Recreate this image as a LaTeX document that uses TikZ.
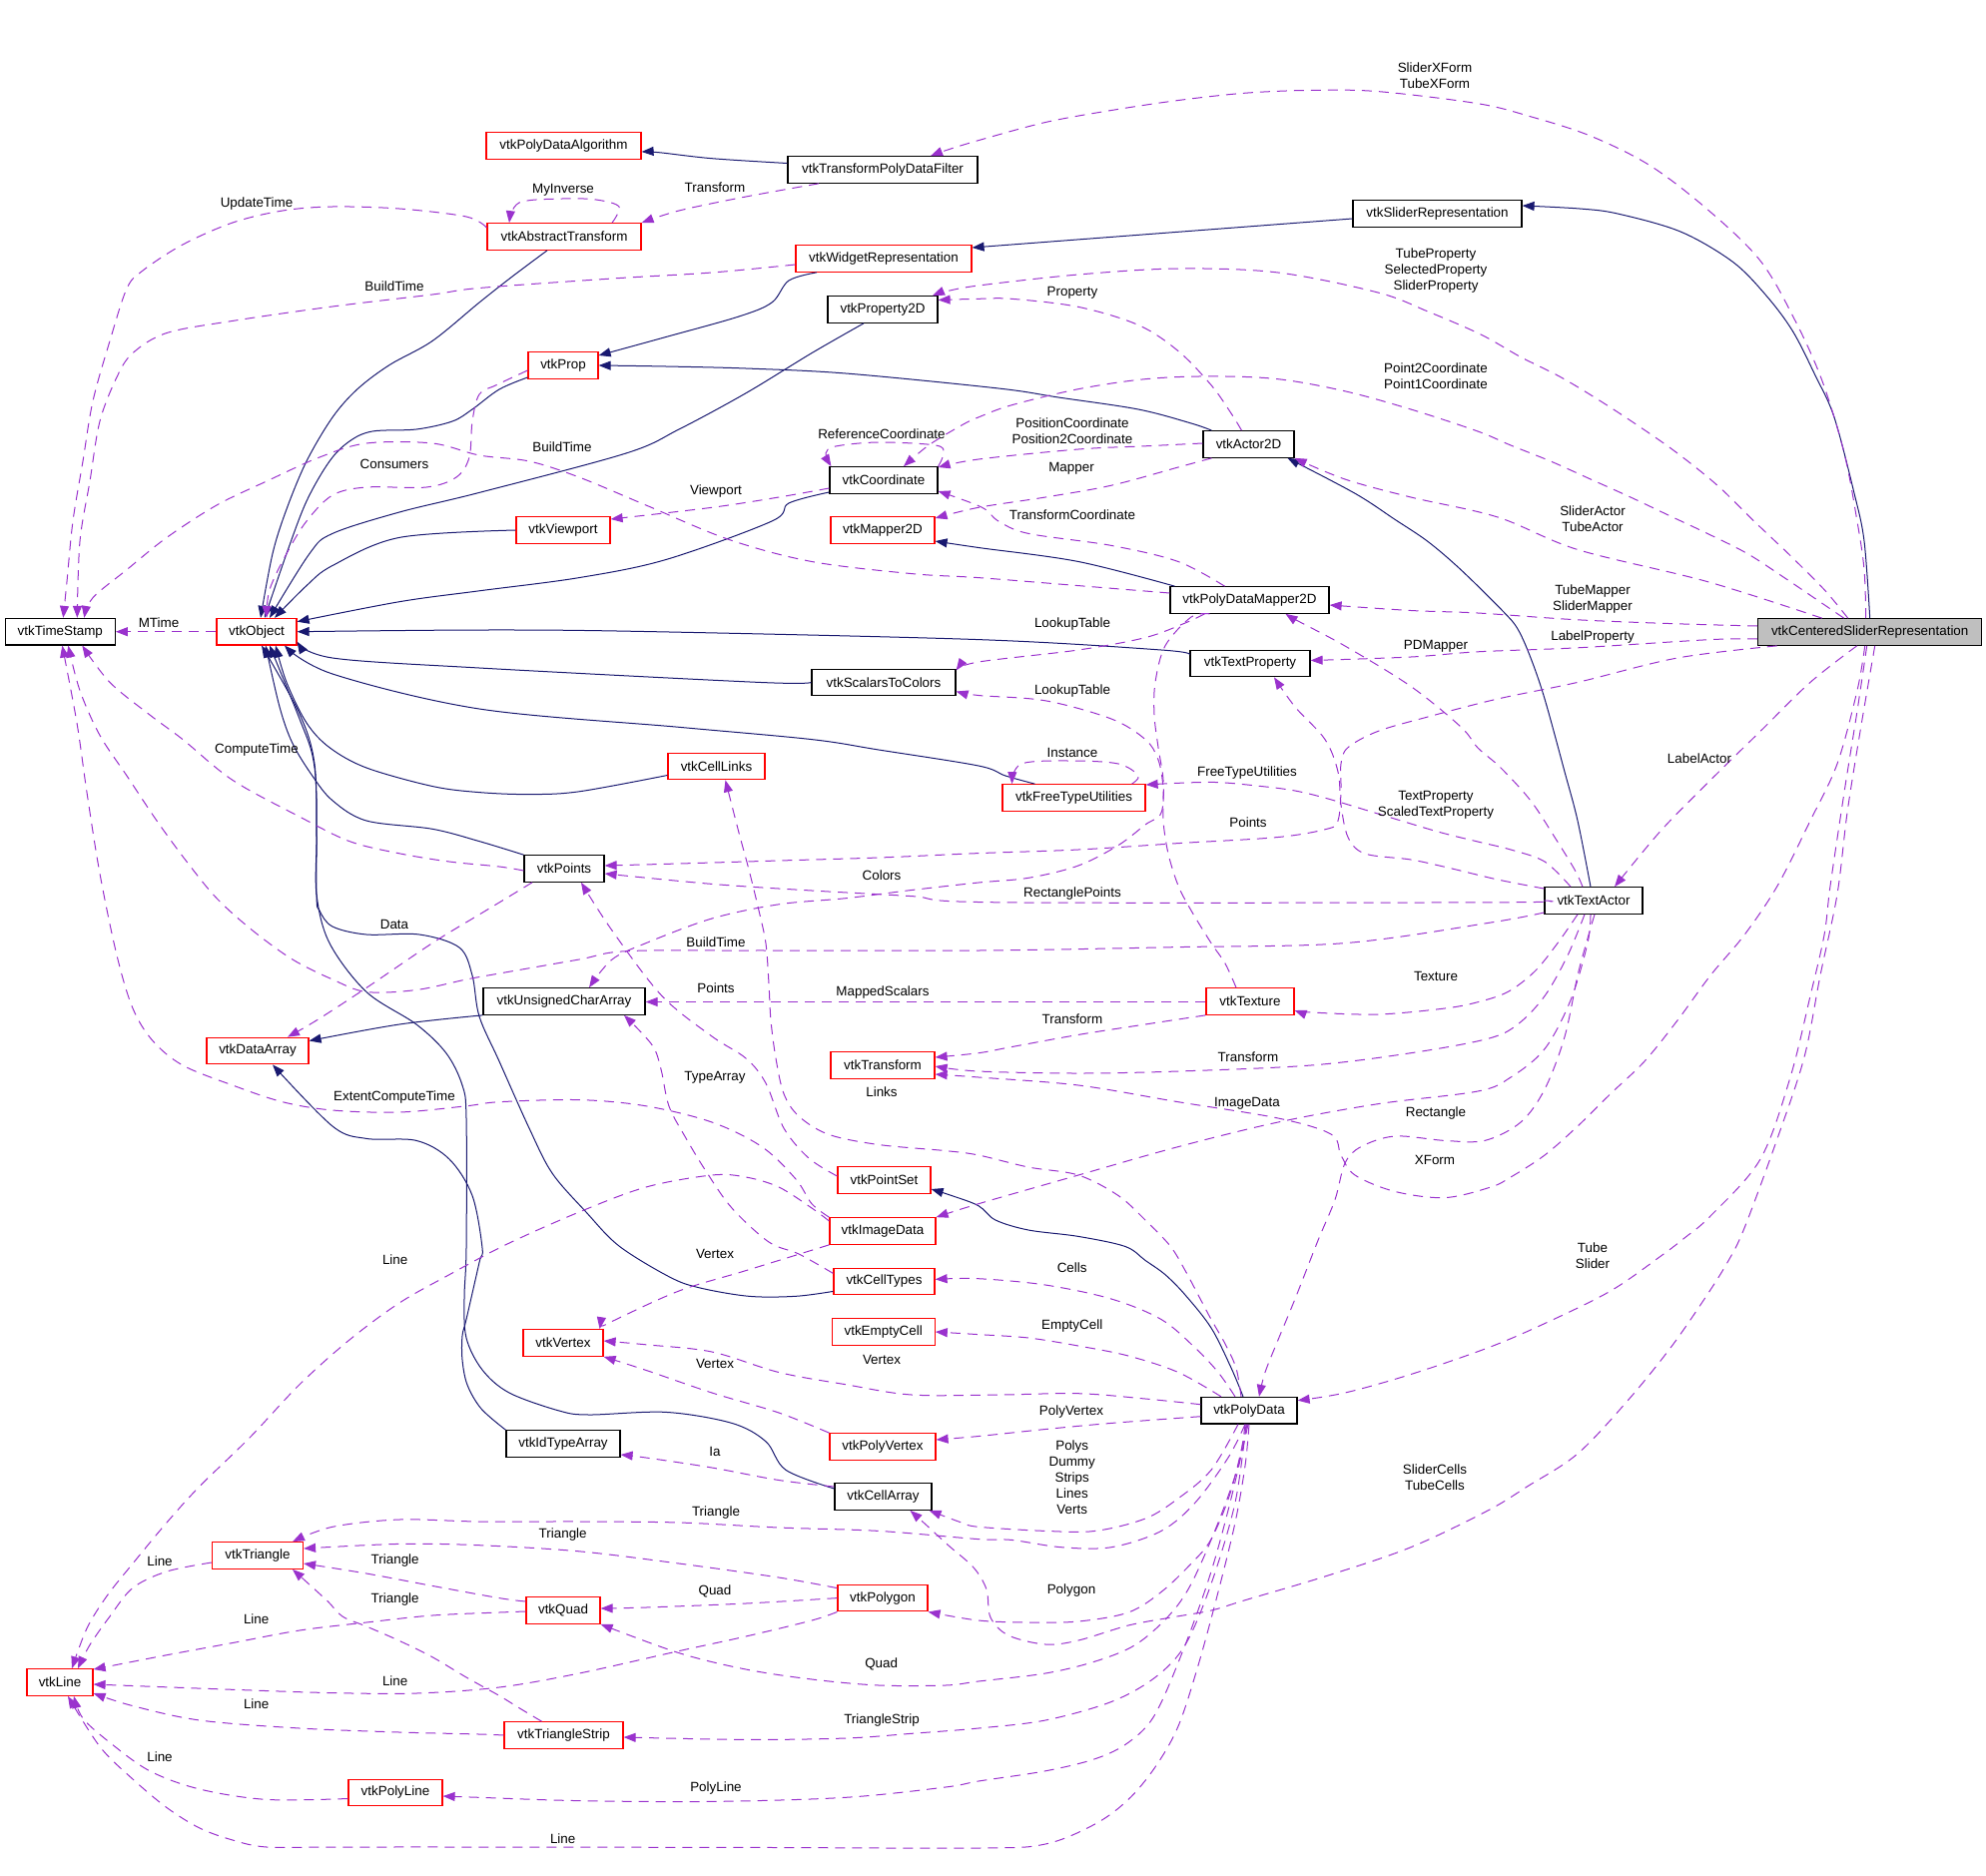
\documentclass[tikz,border=0pt]{standalone}
\usepackage{fontspec}
\setmainfont{Liberation Sans}
\usetikzlibrary{arrows.meta}
\definecolor{navyc}{RGB}{25,25,112}
\definecolor{purp}{RGB}{154,50,205}
\definecolor{grayf}{RGB}{191,191,191}
\newcommand\labfont{\fontsize{13.4}{16}\selectfont}
\begin{document}
\begin{tikzpicture}[x=1pt,y=-1pt,
 cls/.style={draw=black, line width=1.2pt, minimum height=26.5pt, inner sep=0pt, font=\labfont, anchor=center},
 redc/.style={cls, draw=red},
 inh/.style={draw=navyc, line width=1pt, -{Triangle[length=12pt,width=9pt]}},
 use/.style={draw=purp, line width=1pt, dash pattern=on 10pt off 7pt, -{Triangle[length=12pt,width=9pt]}},
 lbl/.style={font=\labfont, inner sep=0pt, align=center},
 sm/.style={smooth, tension=0.55}
]
\useasboundingbox (0,0) rectangle (1989,1879);
% ---------- nodes ----------
\node[cls, fill=grayf, minimum width=224pt] (csr) at (1872.7,633) {vtkCenteredSliderRepresentation};
\node[cls, minimum width=169pt] (srep) at (1439.5,214) {vtkSliderRepresentation};
\node[cls, minimum width=190pt] (tpdf) at (884,170) {vtkTransformPolyDataFilter};
\node[redc, minimum width=155pt] (pdalg) at (564.5,146) {vtkPolyDataAlgorithm};
\node[redc, minimum width=154pt] (abst) at (565,237) {vtkAbstractTransform};
\node[redc, minimum width=176pt] (wrep) at (885,259) {vtkWidgetRepresentation};
\node[cls, minimum width=110pt] (p2d) at (884,310) {vtkProperty2D};
\node[redc, minimum width=70pt] (prop) at (564,366) {vtkProp};
\node[cls, minimum width=91pt] (a2d) at (1250.5,445) {vtkActor2D};
\node[cls, minimum width=108pt] (coord) at (885,481) {vtkCoordinate};
\node[redc, minimum width=94pt] (vp) at (564,531) {vtkViewport};
\node[redc, minimum width=104pt] (m2d) at (884,531) {vtkMapper2D};
\node[cls, minimum width=159pt] (pdm) at (1251.5,601) {vtkPolyDataMapper2D};
\node[cls, minimum width=110pt] (ts) at (60.3,632.7) {vtkTimeStamp};
\node[redc, minimum width=80pt] (obj) at (257,632.7) {vtkObject};
\node[cls, minimum width=120pt] (tprop) at (1252,664.5) {vtkTextProperty};
\node[cls, minimum width=144pt] (s2c) at (885,683.5) {vtkScalarsToColors};
\node[redc, minimum width=97pt] (clinks) at (717.5,767.5) {vtkCellLinks};
\node[redc, minimum width=143pt] (ftu) at (1075.5,799) {vtkFreeTypeUtilities};
\node[cls, minimum width=80pt] (pts) at (565,870) {vtkPoints};
\node[cls, minimum width=98pt] (tact) at (1596,902) {vtkTextActor};
\node[cls, minimum width=162pt] (ucarr) at (565,1003) {vtkUnsignedCharArray};
\node[redc, minimum width=88pt] (tex) at (1252,1003) {vtkTexture};
\node[redc, minimum width=102pt] (darr) at (258,1052.5) {vtkDataArray};
\node[redc, minimum width=104pt] (trf) at (884,1067) {vtkTransform};
\node[redc, minimum width=93pt] (pset) at (885.5,1182) {vtkPointSet};
\node[redc, minimum width=106pt] (imgd) at (884,1233) {vtkImageData};
\node[redc, minimum width=101pt] (ctypes) at (885.5,1283.4) {vtkCellTypes};
\node[redc, minimum width=103pt] (ecell) at (884.7,1334) {vtkEmptyCell};
\node[redc, minimum width=80pt] (vtx) at (564,1345) {vtkVertex};
\node[cls, minimum width=96pt] (pd) at (1251,1412.7) {vtkPolyData};
\node[redc, minimum width=106pt] (pvtx) at (884,1449) {vtkPolyVertex};
\node[cls, minimum width=114pt] (idta) at (564,1446) {vtkIdTypeArray};
\node[cls, minimum width=97pt] (carr) at (884.5,1499) {vtkCellArray};
\node[redc, minimum width=91pt] (tri) at (258,1558) {vtkTriangle};
\node[redc, minimum width=90pt] (pgon) at (884,1600.6) {vtkPolygon};
\node[redc, minimum width=74pt] (quad) at (564,1613) {vtkQuad};
\node[redc, minimum width=66pt] (ln) at (60,1685) {vtkLine};
\node[redc, minimum width=119pt] (tstrip) at (564.5,1738) {vtkTriangleStrip};
\node[redc, minimum width=94pt] (pline) at (396,1795.5) {vtkPolyLine};
% ---------- inheritance ----------
\draw[inh] plot[sm] coordinates {(csr.north) (1867,542) (1857,494) (1837,418) (1818,376) (1795,331) (1768,295) (1735,262) (1683,232) (1620,214) (1582,209) ([yshift=8pt]srep.east)};
\draw[inh] ([yshift=-5pt]srep.west) -- ([yshift=11pt]wrep.east);
\draw[inh] plot[sm] coordinates {([xshift=-67pt]wrep.south) (790,281) (773,303) (740,317) (667,337.5) ([yshift=10pt]prop.east)};
\draw[inh] plot[sm] coordinates {([xshift=-37pt]a2d.north) (1193,424) (1140,410) (1060,398) (1000,389) (847,374) (747,369) (667,367) (prop.east)};
\draw[inh] plot[sm] coordinates {([xshift=-17pt]abst.south) (513,277) (480,303) (433,341.5) (390,365.6) (358,389.7) (333,418) (307,462) (287,510) (273,554.5) ([xshift=4pt]obj.north)};
\draw[inh] plot[sm] coordinates {([yshift=-12pt]prop.west) (500,390) (473,410) (453,422) (417,430) (373,432) (350,442) (330,462) (307,502) (287,554.5) ([xshift=8pt]obj.north)};
\draw[inh] plot[sm] coordinates {([xshift=-19pt]p2d.south) (813,353.6) (747,393.8) (680,430) (627,454) (480,493.4) (400,513) (333,534.4) (310,554.5) ([xshift=13pt]obj.north)};
\draw[inh] plot[sm] coordinates {(vp.west) (400,538.4) (333,566.5) (307,586.6) ([xshift=18pt]obj.north)};
\draw[inh] plot[sm] coordinates {([yshift=-12pt]coord.west) (790,504) (773,522) (667,560.5) (580,578.6) (480,591.8) (400,602.7) ([yshift=10pt]obj.east)};
\draw[inh] plot[sm] coordinates {([yshift=9pt]tprop.west) (1163,651) (980,640.6) (640,632.4) (480,631) (obj.east)};
\draw[inh] plot[sm] coordinates {(s2c.west) (760,683.4) (480,669) (333,659) ([yshift=-10pt]obj.east)};
\draw[inh] plot[sm] coordinates {([xshift=-39pt]ftu.north) (1007,777) (980,767) (880,751) (813,740.6) (680,728.3) (480,710) (333,675) ([xshift=28pt]obj.south)};
\draw[inh] plot[sm] coordinates {([yshift=-9pt]clinks.west) (580,792.8) (530,795.6) (480,793.6) (433,787.5) (367,769) (330,748.7) (307,724) (287,683.4) ([xshift=19pt]obj.south)};
\draw[inh] plot[sm] coordinates {(pts.north west) (480,842.6) (433,830.3) (367,822) (333,801.8) (313,777.3) (293,744.6) (280,708) ([xshift=9pt]obj.south)};
\draw[inh] plot[sm] coordinates {([yshift=-10pt]ctypes.west) (797,1298.3) (750,1298.3) (700,1289.7) (670,1278.7) (620,1248) (587,1214) (553,1175) (530,1130) (500,1063) (480,1018) (473,977) (460,949) (420,936) (367,936) (333,928) (320,912) (317,896) (317,800) (313,757) (300,720) ([xshift=13pt]obj.south)};
\draw[inh] plot[sm] coordinates {([yshift=8pt]carr.west) (787,1472.3) (767,1443.8) (733,1425.4) (667,1414.4) (590,1417) (560,1413) (510,1395) (483,1372) (467,1340) (465,1300) (467,1250) (467,1120) (463,1087) (447,1055) (417,1026) (367,993.5) (330,944.6) (317,895.6) (317,838) (315,765) (300,715) ([xshift=5pt]obj.south)};
\draw[inh] plot[sm] coordinates {(idta.north west) (482,1411) (468,1387) (463,1362) (463,1338) (467,1321.5) (480,1264.5) (483,1250) (473,1197.5) (450,1161) (417,1142.4) (367,1140.4) (333,1128) ([xshift=15pt]darr.south)};
\draw[inh] plot[sm] coordinates {(ucarr.south west) (400,1026) ([yshift=10pt]darr.east)};
\draw[inh] plot[sm] coordinates {([yshift=6.5pt]tpdf.west) (713,158.7) (660,152.7) ([yshift=-6pt]pdalg.east)};
\draw[inh] plot[sm] coordinates {([xshift=-75pt]pdm.north) (1080,562.5) (980,548.5) ([yshift=-11pt]m2d.east)};
\draw[inh] plot[sm] coordinates {([xshift=-3pt]tact.north) (1580,822) (1567,773) (1547,700) (1533,659) (1520,630) (1505,612) (1463,570.6) (1430,542.4) (1397,520.3) (1357,494.2) ([xshift=39pt]a2d.south)};
\draw[inh] plot[sm] coordinates {([xshift=-6pt]pd.north) (1233,1370) (1213,1330) (1187,1297) (1167,1276.7) (1147,1262.4) (1127,1248.5) (1080,1238.4) (1030,1232) (997,1222) (980,1207.7) (953,1197.5) ([yshift=-9pt]pset.east)};
% ---------- usage ----------
\draw[use] (obj.west) -- (ts.east);
\draw[use] plot[sm] coordinates {([yshift=9pt]abst.west) (467,217) (400,209) (333,207) (283,211) (233,223) (183,245) (143,271) (127,289) (110,341.5) (93,401.8) (83,462) (73,522) (67,582.6) ([xshift=3pt]ts.north)};
\draw[use] plot[sm] coordinates {([xshift=48pt]abst.north) (620,207) (597,200) (563,199) (520,203) ([xshift=-55pt]abst.north)};
\draw[use] plot[sm] coordinates {([xshift=-64pt]tpdf.south) (747,197) (680,211) (abst.north east)};
\draw[use] plot[sm] coordinates {([yshift=-6pt]wrep.west) (713,273) (613,279) (480,288.5) (433,295) (333,307) (233,321.4) (167,333.5) (133,353.6) (117,377.7) (100,421.9) (90,482) (80,542.4) ([xshift=17pt]ts.north)};
\draw[use] plot[sm] coordinates {([xshift=-4pt]csr.north) (1867,570.6) (1860,522.3) (1847,454) (1825,381.7) (1798,321.4) (1763,261.2) (1710,209.7) (1652,165.5) (1592,135.8) (1532,116.5) (1480,103.7) (1380,91.6) (1313,90.4) (1247,93.2) (1180,100.5) (1113,110.5) (1047,122.5) (980,140.6) (947,150.7) ([xshift=48pt]tpdf.north)};
\draw[use] plot[sm] coordinates {([xshift=-22pt]csr.north) (1827,590.6) (1793,556.5) (1757,522.3) (1720,486.2) (1680,454) (1643,428) (1603,401.8) (1563,377.7) (1523,357.6) (1483,335) (1430,312) (1380,293) (1280,273) (1180,269) (1080,275) (980,286) (947,292) ([xshift=50pt]p2d.north)};
\draw[use] plot[sm] coordinates {([xshift=-7pt]a2d.north) (1233,414) (1213,385.7) (1180,351.6) (1140,325.5) (1080,307.4) (1013,299.3) (980,299.3) ([yshift=9.5pt]p2d.east)};
\draw[use] plot[sm] coordinates {([xshift=-26pt]csr.north) (1823,603) (1787,578.6) (1750,554.5) (1710,534.4) (1673,517) (1633,498) (1593,480) (1553,462) (1513,446) (1480,432) (1413,410) (1347,391.8) (1280,379.7) (1213,376.9) (1147,379.7) (1080,389.7) (1013,405.8) (980,417.9) (963,426) (930,446) ([xshift=20pt]coord.north)};
\draw[use] plot[sm] coordinates {(coord.north east) (945,454) (937,446) (880,443) (837,447) (827,454) ([xshift=2pt]coord.north west)};
\draw[use] plot[sm] coordinates {([yshift=1pt]a2d.west) (1147,446.8) (1080,450) (980,460) ([yshift=13pt]coord.east)};
\draw[use] plot[sm] coordinates {([xshift=-37pt]a2d.south) (1180,468) (1113,486.2) (1047,498) (980,508.3) ([yshift=12pt]m2d.east)};
\draw[use] plot[sm] coordinates {([yshift=-8pt]coord.west) (780,498) (713,508.3) ([yshift=11pt]vp.east)};
\draw[use] plot[sm] coordinates {([xshift=-25pt]pdm.north) (1180,562.5) (1113,546.4) (1030,534.4) (1000,522) (983,508) ([yshift=-11pt]coord.east)};
\draw[use] plot[sm] coordinates {([yshift=7pt]pdm.west) (1080,586.6) (980,578.6) (913,574.6) (813,562.5) (730,540.4) (647,506) (580,478) (530,462) (480,456) (433,444) (367,444) (320,458) (267,482) (217,506) (167,538.4) (127,570.6) (93,598.7) ([xshift=24pt]ts.north)};
\draw[use] plot[sm] coordinates {([yshift=-5pt]prop.west) (497,385.7) (480,395) (473,422) (470,458) (457,478) (427,488) (367,488) (333,496) (307,522) (287,554.5) (270,590.6) ([xshift=10pt]obj.north)};
\draw[use] plot[sm] coordinates {([xshift=-48pt]csr.north) (1710,582.6) (1580,550.5) (1500,518) (1413,498) (1347,480) (a2d.south east)};
\draw[use] plot[sm] coordinates {([yshift=6pt]csr.west) (1680,624.8) (1580,620.8) (1480,614) (1413,611.5) ([yshift=-5pt]pdm.east)};
\draw[use] plot[sm] coordinates {([yshift=-7pt]csr.west) (1713,640.6) (1580,648.8) (1480,652.8) (1413,658) ([yshift=3pt]tprop.east)};
\draw[use] plot[sm] coordinates {([xshift=-11pt]tact.north) (1577,871) (1557,838.5) (1533,802) (1503,769) (1480,749) (1463,728) (1413,687.5) (1347,647) (1300,622) ([xshift=36pt]pdm.south)};
\draw[use] plot[sm] coordinates {([yshift=12pt]tact.west) (1500,881) (1450,869) (1413,861) (1367,855) (1350,838.5) (1343,806) (1340,773) (1327,740.6) (1297,708) ([xshift=24pt]tprop.south)};
\draw[use] plot[sm] coordinates {([xshift=-93pt]csr.south) (1680,659) (1580,683.4) (1500,700) (1430,718) (1380,732.4) (1350,748.7) (1343,765) (1343,793.6) (1340,822) (1330,830) (1280,838.5) (1180,844.6) (1080,851) (980,854.6) (880,859) (780,862) (680,865) ([yshift=3pt]pts.east)};
\draw[use] plot[sm] coordinates {([xshift=-23pt]tact.north) (1547,863) (1513,851) (1480,843) (1440,833) (1380,815) (1330,800) (1297,792) (1263,787.5) (1213,783.4) ([yshift=13pt]ftu.east)};
\draw[use] plot[sm] coordinates {([xshift=58pt]ftu.north) (1140,777) (1120,765) (1073,762) (1023,765) ([xshift=-62pt]ftu.north)};
\draw[use] plot[sm] coordinates {([xshift=-45pt]pdm.south) (1187,624) (1147,638.6) (1080,651) (980,663) ([yshift=12pt]s2c.east)};
\draw[use] plot[sm] coordinates {([xshift=-14pt]tex.north) (1227,965) (1213,944.6) (1193,912) (1180,887) (1170,855) (1165,822) (1165,789.5) (1160,761) (1147,740.6) (1113,720) (1047,701.8) (980,696.5) ([yshift=-9pt]s2c.east)};
\draw[use] plot[sm] coordinates {([xshift=-40pt]pdm.south) (1193,618) (1167,646.7) (1157,683.4) (1156,716) (1160,748.7) (1165,781.4) (1163,814) (1147,826) (1120,846.6) (1080,867) (1030,879.3) (980,884) (913,891.5) (847,899.7) (780,905.8) (713,920) (647,944.6) (613,961) ([xshift=25pt]ucarr.north)};
\draw[use] plot[sm] coordinates {(tact.west) (1500,903.8) (1000,903.8) (913,897.6) (813,892) (713,885.4) ([yshift=-5pt]pts.east)};
\draw[use] plot[sm] coordinates {([yshift=-12pt]tact.west) (1493,924) (1347,944.6) (1180,948.6) (980,952) (747,952) (627,952.7) (580,961) (500,975) (467,981) (417,991.5) (367,993.5) (333,981) (293,961) (253,932) (217,899.7) (187,863) (157,822) (127,777) (100,736.5) (80,691.6) ([xshift=8pt]ts.south)};
\draw[use] plot[sm] coordinates {([yshift=-2pt]pts.west) (500,868) (450,863) (400,854.8) (350,842.6) (300,818) (233,781.4) (183,740.6) (150,716) (110,683.4) ([xshift=22pt]ts.south)};
\draw[use] plot[sm] coordinates {(imgd.north west) (813,1205.7) (797,1181) (763,1148.6) (713,1124) (647,1107.8) (580,1101.6) (500,1103.7) (467,1107.8) (400,1114) (333,1112) (283,1103.7) (233,1087) (183,1067) (153,1042.5) (133,1010) (117,956.8) (100,875) (87,793.6) (77,724) ([xshift=2pt]ts.south)};
\draw[use] plot[sm] coordinates {([xshift=-32pt]pts.south) (507,899.7) (480,916) (433,944.6) (367,989.4) (317,1022) ([xshift=30pt]darr.north)};
\draw[use] ([yshift=-0.5pt]tex.west) -- ([yshift=-0.5pt]ucarr.east);
\draw[use] plot[sm] coordinates {([xshift=-16pt]tact.south) (1560,944.6) (1537,973) (1510,993.5) (1480,1003.7) (1447,1010) (1380,1016) (1313,1014) ([yshift=-9pt]tex.east)};
\draw[use] plot[sm] coordinates {(tex.south west) (1147,1026) (1080,1036.4) (1013,1048.6) (980,1054.7) ([yshift=8pt]trf.east)};
\draw[use] plot[sm] coordinates {([xshift=-9pt]tact.south) (1570,957) (1547,997.6) (1520,1026) (1490,1040.4) (1413,1054.7) (1313,1067) (1180,1073) (1080,1075) (980,1073) ([yshift=-1pt]trf.east)};
\draw[use] plot[sm] coordinates {([xshift=-5pt]csr.south) (1860,691.6) (1840,765) (1813,822) (1780,887.4) (1747,936.4) (1713,977) (1680,1022) (1647,1063) (1613,1095.5) (1580,1128) (1547,1157) (1513,1179) (1493,1189) (1447,1199.6) (1397,1193.4) (1357,1177) (1343,1157) (1333,1136) (1280,1120) (1180,1103.7) (1080,1087) (980,1079) ([yshift=-9pt]trf.east)};
\draw[use] plot[sm] coordinates {([xshift=-3pt]tact.south) (1590,944.6) (1573,1001.7) (1547,1050.6) (1513,1079) (1480,1093) (1380,1105.7) (1280,1124) (1180,1148.6) (1080,1177) (980,1205.7) (imgd.north east)};
\draw[use] plot[sm] coordinates {([xshift=1pt]tact.south) (1590,940) (1580,977) (1567,1038.4) (1547,1091) (1523,1124) (1487,1142.4) (1447,1142.4) (1397,1138) (1363,1148.6) (1347,1165) (1337,1201.6) (1320,1242.4) (1297,1301) (1280,1342) (1267,1374.5) ([xshift=10pt]pd.north)};
\draw[use] plot[sm] coordinates {([xshift=-13pt]csr.south) (1813,683.4) (1763,732.4) (1713,781.4) (1663,832.4) ([xshift=21pt]tact.north)};
\draw[use] plot[sm] coordinates {([xshift=-3pt]csr.south) (1860,712) (1847,793.6) (1833,887.4) (1827,936.4) (1813,997.6) (1793,1079) (1763,1161) (1713,1218) (1687,1240) (1663,1258.3) (1613,1293) (1547,1325.6) (1490,1350) (1413,1376.5) (1347,1395) ([yshift=10pt]pd.east)};
\draw[use] plot[sm] coordinates {([xshift=5pt]csr.south) (1863,732.4) (1850,814) (1840,895.6) (1823,977) (1807,1058.8) (1780,1140.4) (1747,1230) (1730,1264.5) (1707,1301) (1673,1350) (1630,1403) (1580,1456) (1530,1488.6) (1490,1513) (1413,1549.7) (1330,1578) (1247,1602.7) (1213,1613) (1173,1620) (1130,1628) (1080,1643) (1047,1647) (1010,1638) (992,1620) (988,1592) (975,1570) (950,1548) (925,1525) ([xshift=27pt]carr.south)};
\draw[use] plot[sm] coordinates {([xshift=-11pt]pd.south) (1213,1472.3) (1180,1500.8) (1147,1521) (1097,1533.4) (1047,1533.4) (980,1529.3) (963,1525) ([xshift=-3pt]carr.south east)};
\draw[use] plot[sm] coordinates {([yshift=10pt]carr.west) (780,1482.5) (713,1470) (647,1460) ([yshift=-11pt]idta.east)};
\draw[use] plot[sm] coordinates {([xshift=-14pt]pd.north) (1220,1374.5) (1197,1350) (1163,1321.5) (1113,1301) (1047,1287) (980,1280.7) ([yshift=2pt]ctypes.east)};
\draw[use] plot[sm] coordinates {([xshift=-28pt]pd.north) (1180,1374.5) (1130,1358) (1080,1348) (1030,1340) (980,1336.6) (ecell.east)};
\draw[use] plot[sm] coordinates {([xshift=-8pt]pd.north) (1238,1370.4) (1227,1346) (1213,1321.5) (1200,1297) (1187,1272.6) (1172,1248) (1147,1222) (1120,1197.5) (1080,1177) (1030,1169) (980,1157) (947,1152.6) (880,1146.5) (830,1136.3) (800,1118) (785,1095.5) (777,1060) (772,1022) (770,985) (767,945) (760,912) (750,871) (740,834) ([xshift=9pt]clinks.south)};
\draw[use] plot[sm] coordinates {([yshift=4pt]pset.west) (810,1160) (785,1130) (767,1085) (747,1060) (713,1038) (663,997.6) (613,932) ([xshift=17pt]pts.south)};
\draw[use] plot[sm] coordinates {([yshift=8pt]ctypes.west) (800,1256) (770,1244) (733,1210) (707,1173) (687,1140) (670,1108) (662,1071) (653,1046.6) ([xshift=60pt]ucarr.south)};
\draw[use] plot[sm] coordinates {(imgd.south west) (747,1272.6) (680,1293) (613,1323.5) ([xshift=-4pt]vtx.north east)};
\draw[use] plot[sm] coordinates {([yshift=10pt]imgd.west) (813,1210) (780,1189) (747,1179) (713,1177) (647,1189) (580,1214) (507,1246.5) (450,1276.7) (400,1305) (350,1342) (300,1386.7) (250,1440) (200,1488.6) (167,1525) (133,1566) (107,1598.6) (87,1631) ([xshift=12pt]ln.north)};
\draw[use] plot[sm] coordinates {([yshift=6pt]pd.west) (1147,1401) (1080,1395.7) (1000,1397) (913,1397) (847,1386.7) (780,1374.5) (713,1354) (647,1346.8) ([yshift=2pt]vtx.east)};
\draw[use] plot[sm] coordinates {([yshift=-6pt]pd.west) (1113,1425.4) (1047,1431.5) (980,1438.5) ([yshift=7pt]pvtx.east)};
\draw[use] plot[sm] coordinates {(pvtx.north west) (780,1415) (713,1395) (647,1372.4) (vtx.south east)};
\draw[use] plot[sm] coordinates {([xshift=-4pt]pd.south) (1230,1460) (1197,1505) (1163,1533.4) (1113,1549.7) (1063,1549.7) (1013,1542.4) (980,1541.6) (880,1533.4) (780,1530) (680,1525) (580,1524) (480,1524) (400,1522) (333,1529.3) ([xshift=35pt]tri.north)};
\draw[use] plot[sm] coordinates {([yshift=10pt]pgon.west) (780,1580) (680,1566) (580,1553.8) (480,1547.7) (400,1546.4) ([yshift=7pt]tri.east)};
\draw[use] plot[sm] coordinates {([yshift=9pt]quad.west) (500,1600.6) (433,1588.4) (367,1576) ([yshift=-8pt]tri.east)};
\draw[use] plot[sm] coordinates {([xshift=-22pt]tstrip.north) (520,1710.7) (500,1698.4) (467,1680) (433,1659.7) (400,1643.4) (367,1629) (343,1619) (327,1602.7) ([xshift=35pt]tri.south)};
\draw[use] plot[sm] coordinates {([yshift=-7pt]tri.west) (167,1574) (133,1590.4) (110,1619) (90,1647.5) ([xshift=18pt]ln.north)};
\draw[use] plot[sm] coordinates {(pgon.west) (747,1606) (647,1610) ([yshift=2pt]quad.east)};
\draw[use] plot[sm] coordinates {([yshift=-1pt]quad.west) (500,1615) (433,1618) (367,1625) (300,1633) (233,1645.5) (167,1657.7) ([yshift=13pt]ln.east)};
\draw[use] plot[sm] coordinates {(pgon.south west) (813,1623) (747,1639) (680,1653.6) (580,1676) (500,1690) (417,1696) (333,1695.6) (233,1692.3) ([yshift=-2pt]ln.east)};
\draw[use] plot[sm] coordinates {([xshift=-4pt]pd.south) (1240,1468) (1220,1525) (1193,1586.4) (1170,1619) (1137,1647.5) (1097,1664) (1047,1676) (980,1684) (947,1688) (880,1688) (813,1682) (747,1672) (680,1655.6) (quad.south east)};
\draw[use] plot[sm] coordinates {([xshift=-3pt]pd.south) (1237,1505) (1213,1586.4) (1187,1647.5) (1157,1680) (1113,1704.5) (1047,1723) (980,1731) (913,1736.3) (847,1741) (747,1742.4) ([yshift=-2pt]tstrip.east)};
\draw[use] plot[sm] coordinates {(tstrip.west) (480,1737) (400,1735) (300,1731) (200,1723) (133,1708.6) ([yshift=-11pt]ln.east)};
\draw[use] plot[sm] coordinates {([xshift=-1pt]pd.south) (1233,1500.8) (1213,1574) (1187,1647.5) (1157,1716.8) (1130,1745.3) (1097,1761.6) (1047,1773.8) (980,1784) (947,1790) (847,1800.3) (713,1804.4) (580,1803.6) (480,1800.3) ([yshift=-3.5pt]pline.east)};
\draw[use] plot[sm] coordinates {([yshift=-6pt]pline.west) (267,1802.4) (200,1792) (150,1773.8) (110,1745.3) (83,1721) ([xshift=14pt]ln.south)};
\draw[use] plot[sm] coordinates {(pd.south) (1247,1468) (1237,1525) (1220,1594.5) (1200,1668) (1180,1729) (1157,1769.8) (1130,1802.4) (1097,1826.8) (1047,1847) (980,1851) (747,1850.4) (480,1850) (333,1850) (267,1850) (233,1843) (200,1831) (167,1810.5) (133,1782) (100,1749.4) ([xshift=8pt]ln.south)};
\draw[use] plot[sm] coordinates {([xshift=-2pt]pd.south) (1233,1492.7) (1213,1541.6) (1193,1566) (1163,1594.5) (1130,1615) (1080,1624) (1030,1625) (980,1623) (pgon.south east)};
% ---------- labels ----------
\node[lbl] (l1) at (257,203.7) {UpdateTime};
\node[lbl] (l2) at (564,190.5) {MyInverse};
\node[lbl] (l3) at (716,187.6) {Transform};
\node[lbl] (l4) at (395,286.5) {BuildTime};
\node[lbl] (l5) at (1437,75.5) {SliderXForm\\TubeXForm};
\node[lbl] (l6) at (1438,270.8) {TubeProperty\\SelectedProperty\\SliderProperty};
\node[lbl] (l7) at (1074,293.7) {Property};
\node[lbl] (l8) at (1438,377) {Point2Coordinate\\Point1Coordinate};
\node[lbl] (l9) at (395,465.3) {Consumers};
\node[lbl] (l10) at (563,447.6) {BuildTime};
\node[lbl] (l11) at (883,434.7) {ReferenceCoordinate};
\node[lbl] (l12) at (1074,431.5) {PositionCoordinate\\Position2Coordinate};
\node[lbl] (l13) at (717,491.8) {Viewport};
\node[lbl] (l14) at (1073,469.7) {Mapper};
\node[lbl] (l15) at (1074,515.5) {TransformCoordinate};
\node[lbl] (l16) at (1595,519.5) {SliderActor\\TubeActor};
\node[lbl] (l17) at (1595,600) {TubeMapper\\SliderMapper};
\node[lbl] (l18) at (159,623.5) {MTime};
\node[lbl] (l19) at (1074,625.2) {LookupTable};
\node[lbl] (l20) at (1595,637.7) {LabelProperty};
\node[lbl] (l21) at (1438,647.5) {PDMapper};
\node[lbl] (l22) at (1074,691.6) {LookupTable};
\node[lbl] (l23) at (257,751) {ComputeTime};
\node[lbl] (l24) at (1074,753.6) {Instance};
\node[lbl] (l25) at (1702,759.7) {LabelActor};
\node[lbl] (l26) at (1249,774.4) {FreeTypeUtilities};
\node[lbl] (l27) at (1438,806.5) {TextProperty\\ScaledTextProperty};
\node[lbl] (l28) at (1250,823.4) {Points};
\node[lbl] (l29) at (883,877) {Colors};
\node[lbl] (l30) at (1074,895.2) {RectanglePoints};
\node[lbl] (l31) at (395,926) {Data};
\node[lbl] (l32) at (717,943.3) {BuildTime};
\node[lbl] (l33) at (1438,978.4) {Texture};
\node[lbl] (l34) at (717,989.4) {Points};
\node[lbl] (l35) at (884,994) {MappedScalars};
\node[lbl] (l36) at (1074,1021) {Transform};
\node[lbl] (l37) at (1250,1058.4) {Transform};
\node[lbl] (l38) at (716,1079) {TypeArray};
\node[lbl] (l39) at (883,1093.5) {Links};
\node[lbl] (l40) at (395,1099) {ExtentComputeTime};
\node[lbl] (l41) at (1249,1105.3) {ImageData};
\node[lbl] (l42) at (1438,1115.5) {Rectangle};
\node[lbl] (l43) at (1437,1162.4) {XForm};
\node[lbl] (l44) at (1595,1257.4) {Tube\\Slider};
\node[lbl] (l45) at (395.7,1261.6) {Line};
\node[lbl] (l46) at (716,1255.5) {Vertex};
\node[lbl] (l47) at (1073.7,1270) {Cells};
\node[lbl] (l48) at (1073.7,1327.6) {EmptyCell};
\node[lbl] (l49) at (883,1362) {Vertex};
\node[lbl] (l50) at (716,1366.3) {Vertex};
\node[lbl] (l51) at (1073,1413.6) {PolyVertex};
\node[lbl] (l52) at (1073.7,1479.4) {Polys\\Dummy\\Strips\\Lines\\Verts};
\node[lbl] (l53) at (1437,1479.5) {SliderCells\\TubeCells};
\node[lbl] (l54) at (716,1453.5) {Ia};
\node[lbl] (l55) at (717,1515.5) {Triangle};
\node[lbl] (l56) at (563.7,1537.5) {Triangle};
\node[lbl] (l57) at (395.7,1562.7) {Triangle};
\node[lbl] (l58) at (160,1564) {Line};
\node[lbl] (l59) at (1073,1593.3) {Polygon};
\node[lbl] (l60) at (716,1594) {Quad};
\node[lbl] (l61) at (395.7,1601.9) {Triangle};
\node[lbl] (l62) at (256.7,1621.4) {Line};
\node[lbl] (l63) at (882.7,1667) {Quad};
\node[lbl] (l64) at (395.7,1683.4) {Line};
\node[lbl] (l65) at (256.7,1706.6) {Line};
\node[lbl] (l66) at (883,1723.3) {TriangleStrip};
\node[lbl] (l67) at (160,1759.6) {Line};
\node[lbl] (l68) at (717,1791.3) {PolyLine};
\node[lbl] (l69) at (563.7,1841.5) {Line};
\end{tikzpicture}
\end{document}
